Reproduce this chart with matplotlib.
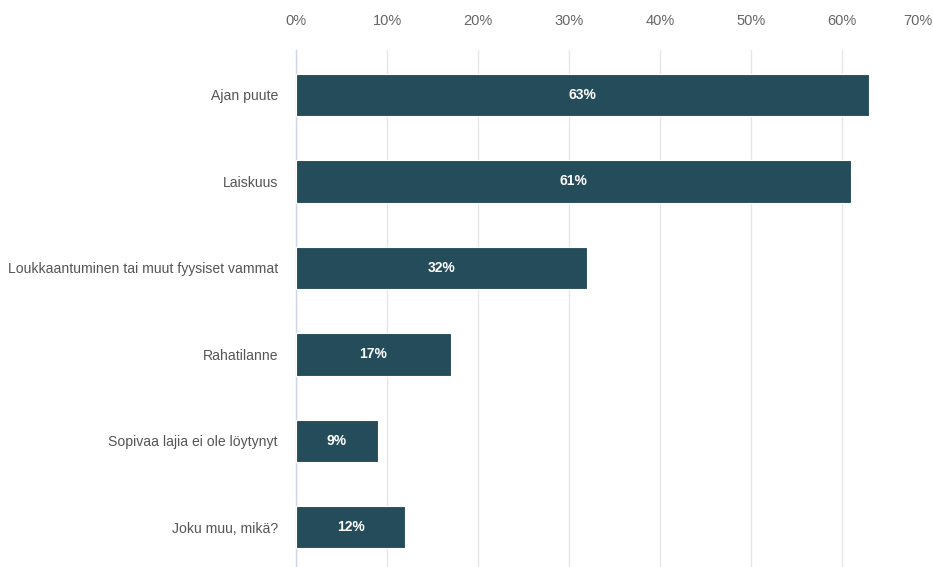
import matplotlib
matplotlib.use("Agg")
import matplotlib.pyplot as plt

categories = ["Ajan puute", "Laiskuus", "Loukkaantuminen tai muut fyysiset vammat",
              "Rahatilanne", "Sopivaa lajia ei ole löytynyt", "Joku muu, mikä?"]
values = [63, 61, 32, 17, 9, 12]
xticks = [0, 10, 20, 30, 40, 50, 60, 70]
xtick_labels = [f"{t}%" for t in xticks]

plt.rcParams['font.family'] = ['Liberation Sans', 'DejaVu Sans']

fig = plt.figure(figsize=(9.33, 5.67), dpi=100)
ax = fig.add_axes([296/933, 0, 1 - 296/933, 1 - 50/567])

ypos = list(range(len(categories)))
ax.barh(ypos, values, height=0.49, color="#244c5a", edgecolor="white", linewidth=0.8, zorder=3)
for y, v in zip(ypos, values):
    ax.text(v / 2, y, f"{v}%", ha="center", va="center", color="white",
            fontsize=10, fontweight="bold", zorder=4)

ax.set_xlim(0, 70)
ax.set_ylim(5.46, -0.52)
ax.set_xticks(xticks)
ax.set_xticklabels(xtick_labels)
ax.xaxis.tick_top()
ax.tick_params(axis="x", length=0, pad=16, labelsize=10.5, labelcolor="#666666")
ax.get_xticklabels()[-1].set_ha("right")
ax.set_yticks(ypos)
ax.set_yticklabels(categories)
ax.tick_params(axis="y", length=0, pad=13, labelsize=10.1, labelcolor="#555555")

ax.grid(axis="x", color="#e6e6e6", linewidth=1, zorder=0)
ax.get_xgridlines()[-1].set_visible(False)
for s in ["top", "right", "bottom"]:
    ax.spines[s].set_visible(False)
ax.spines["left"].set_color("#ccd6eb")
ax.spines["left"].set_linewidth(1)

fig.savefig("out.png", dpi=100)
